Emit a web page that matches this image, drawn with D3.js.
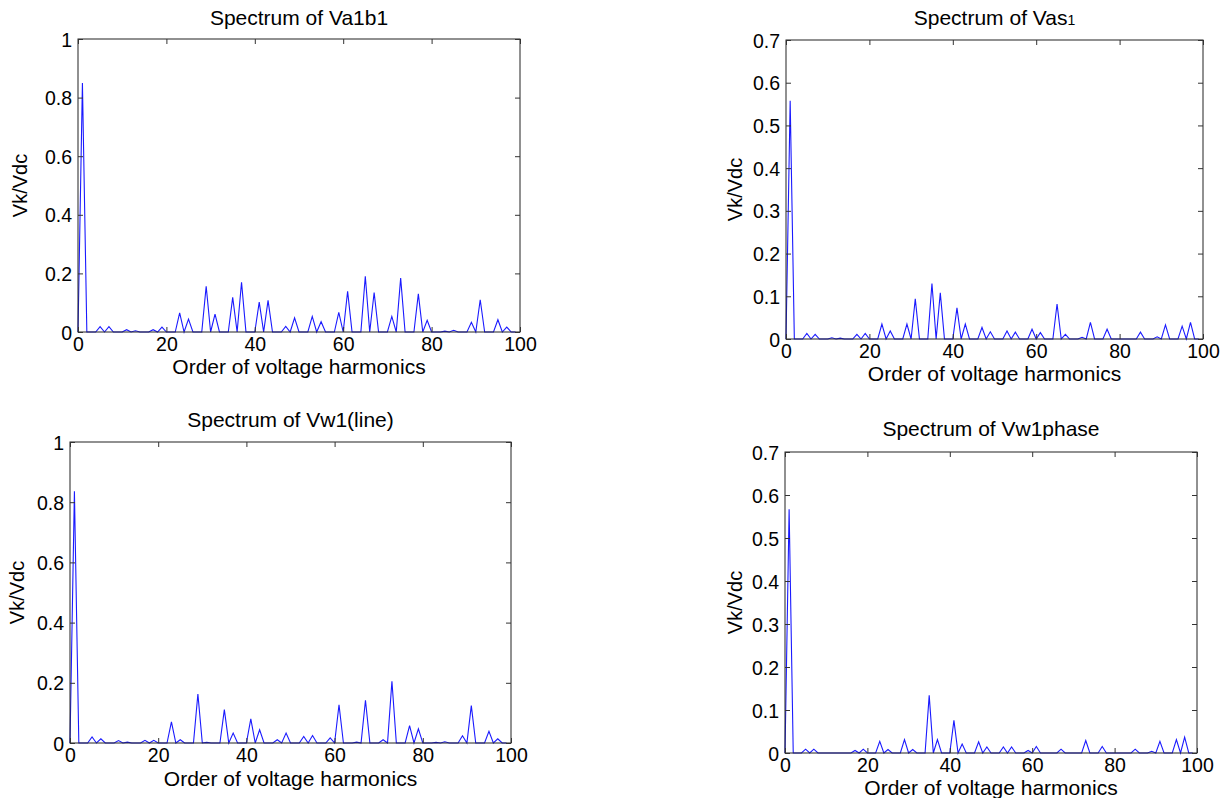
<!DOCTYPE html>
<html>
<head>
<meta charset="utf-8">
<script src="https://cdn.jsdelivr.net/npm/d3@7"></script>
<style>
  body { margin: 0; background: #fff; }
  svg text { font-family: "Liberation Sans", Arial, sans-serif; fill: #000; }
  .axis path, .axis line { stroke: #333; }
</style>
</head>
<body>
<svg id="chart" width="1230" height="798"></svg>
<script>
// harmonic order 0..99
var orders = d3.range(0, 100);

var va1b1 = [
  0, 0.85, 0, 0, 0, 0.018, 0, 0.018, 0, 0,
  0, 0.008, 0, 0.004, 0, 0, 0, 0.008, 0, 0.017,
  0, 0, 0, 0.065, 0, 0.044, 0, 0, 0, 0.156,
  0, 0.061, 0, 0, 0, 0.118, 0, 0.17, 0, 0,
  0, 0.102, 0, 0.108, 0, 0, 0, 0.019, 0, 0.048,
  0, 0, 0, 0.053, 0, 0.035, 0, 0, 0, 0.067,
  0, 0.139, 0, 0, 0, 0.19, 0, 0.135, 0, 0,
  0, 0.053, 0, 0.184, 0, 0, 0, 0.13, 0, 0.04,
  0, 0, 0, 0.003, 0, 0.006, 0, 0, 0, 0.033,
  0, 0.11, 0, 0, 0, 0.042, 0, 0.017, 0, 0
];

var vas1 = [
  0, 0.558, 0, 0, 0, 0.013, 0, 0.011, 0, 0,
  0, 0.003, 0, 0.002, 0, 0, 0, 0.011, 0, 0.013,
  0, 0, 0, 0.035, 0, 0.019, 0, 0, 0, 0.035,
  0, 0.094, 0, 0, 0, 0.13, 0, 0.108, 0, 0,
  0, 0.073, 0, 0.035, 0, 0, 0, 0.027, 0, 0.017,
  0, 0, 0, 0.019, 0, 0.016, 0, 0, 0, 0.023,
  0, 0.015, 0, 0, 0, 0.082, 0, 0.011, 0, 0,
  0, 0.004, 0, 0.039, 0, 0, 0, 0.023, 0, 0,
  0, 0, 0, 0, 0, 0.016, 0, 0, 0, 0.005,
  0, 0.033, 0, 0, 0, 0.03, 0, 0.039, 0, 0
];

var vw1line = [
  0, 0.836, 0, 0, 0, 0.02, 0, 0.014, 0, 0,
  0, 0.008, 0, 0.003, 0, 0, 0, 0.009, 0, 0.009,
  0, 0, 0, 0.07, 0, 0.011, 0, 0, 0, 0.163,
  0, 0.002, 0, 0, 0, 0.111, 0, 0.033, 0, 0,
  0, 0.08, 0, 0.044, 0, 0, 0, 0.011, 0, 0.033,
  0, 0, 0, 0.022, 0, 0.025, 0, 0, 0, 0.017,
  0, 0.127, 0, 0, 0, 0.003, 0, 0.142, 0, 0,
  0, 0.011, 0, 0.205, 0, 0, 0, 0.058, 0, 0.047,
  0, 0, 0, 0.002, 0, 0.004, 0, 0, 0, 0.024,
  0, 0.124, 0, 0, 0, 0.039, 0, 0.014, 0, 0
];

var vw1phase = [
  0, 0.567, 0, 0, 0, 0.009, 0, 0.009, 0, 0,
  0, 0, 0, 0, 0, 0, 0, 0.006, 0, 0.009,
  0, 0, 0, 0.027, 0, 0.008, 0, 0, 0, 0.031,
  0, 0.008, 0, 0, 0, 0.134, 0, 0.031, 0, 0,
  0, 0.076, 0, 0.021, 0, 0, 0, 0.026, 0, 0.014,
  0, 0, 0, 0.014, 0, 0.014, 0, 0, 0, 0.006,
  0, 0.015, 0, 0, 0, 0, 0, 0.009, 0, 0,
  0, 0, 0, 0.029, 0, 0, 0, 0.015, 0, 0,
  0, 0, 0, 0, 0, 0.009, 0, 0, 0, 0.004,
  0, 0.027, 0, 0, 0, 0.031, 0, 0.037, 0, 0
];

var xTicks = [0, 20, 40, 60, 80, 100];
var yTicksFull = [0, 0.2, 0.4, 0.6, 0.8, 1];
var yTicksHalf = [0, 0.1, 0.2, 0.3, 0.4, 0.5, 0.6, 0.7];

var panels = [
  {title: "Spectrum of Va1b1", sub: null, values: va1b1, yMax: 1, yTicks: yTicksFull,
   left: 78, right: 520, top: 39, bottom: 332, titleY: 25, xlabY: 374, ylabX: 20},
  {title: "Spectrum of Vas", sub: "1", values: vas1, yMax: 0.7, yTicks: yTicksHalf,
   left: 786, right: 1203, top: 40, bottom: 339, titleY: 25, xlabY: 381, ylabX: 735},
  {title: "Spectrum of Vw1(line)", sub: null, values: vw1line, yMax: 1, yTicks: yTicksFull,
   left: 70, right: 511, top: 442, bottom: 743, titleY: 427, xlabY: 786, ylabX: 17},
  {title: "Spectrum of Vw1phase", sub: null, values: vw1phase, yMax: 0.7, yTicks: yTicksHalf,
   left: 785, right: 1197, top: 452, bottom: 753, titleY: 436, xlabY: 795, ylabX: 735}
];

var svg = d3.select("#chart");
var fmt = function(d) { return d === 0 ? "0" : d === 1 ? "1" : d3.format(".1f")(d); };

panels.forEach(function(p) {
  var x = d3.scaleLinear().domain([0, 100]).range([p.left, p.right]);
  var y = d3.scaleLinear().domain([0, p.yMax]).range([p.bottom, p.top]);
  var g = svg.append("g");

  // spectrum line
  var line = d3.line()
    .x(function(d, i) { return x(orders[i]); })
    .y(function(d) { return y(d); });

  g.append("path")
    .datum(p.values)
    .attr("d", line)
    .attr("fill", "none")
    .attr("stroke", "#1a1aff")
    .attr("stroke-width", 1.1);

  // box
  g.append("rect")
    .attr("x", p.left).attr("y", p.top)
    .attr("width", p.right - p.left).attr("height", p.bottom - p.top)
    .attr("fill", "none").attr("stroke", "#222").attr("stroke-width", 1);

  // bottom axis (inward ticks)
  var xb = g.append("g").attr("class", "axis")
    .attr("transform", "translate(0," + p.bottom + ")")
    .call(d3.axisBottom(x).tickValues(xTicks).tickSizeInner(-5).tickSizeOuter(0).tickPadding(5).tickFormat(d3.format("d")));
  xb.select(".domain").remove();
  xb.selectAll("text").style("font-size", "19.5px").attr("dy", "0.71em");

  var xt = g.append("g").attr("class", "axis")
    .attr("transform", "translate(0," + p.top + ")")
    .call(d3.axisTop(x).tickValues(xTicks).tickSizeInner(-5).tickSizeOuter(0).tickFormat(""));
  xt.select(".domain").remove();

  var yl = g.append("g").attr("class", "axis")
    .attr("transform", "translate(" + p.left + ",0)")
    .call(d3.axisLeft(y).tickValues(p.yTicks).tickSizeInner(-5).tickSizeOuter(0).tickPadding(6).tickFormat(fmt));
  yl.select(".domain").remove();
  yl.selectAll("text").style("font-size", "19.5px").attr("dy", "0.36em");

  var yr = g.append("g").attr("class", "axis")
    .attr("transform", "translate(" + p.right + ",0)")
    .call(d3.axisRight(y).tickValues(p.yTicks).tickSizeInner(-5).tickSizeOuter(0).tickFormat(""));
  yr.select(".domain").remove();

  // title
  var cx = (p.left + p.right) / 2;
  var t = g.append("text")
    .attr("x", cx).attr("y", p.titleY)
    .attr("text-anchor", "middle")
    .style("font-size", "21px")
    .text(p.title);
  if (p.sub) t.append("tspan").style("font-size", "14px").text(p.sub);

  // x label
  g.append("text")
    .attr("x", cx).attr("y", p.xlabY)
    .attr("text-anchor", "middle")
    .style("font-size", "21px")
    .text("Order of voltage harmonics");

  // y label
  g.append("text")
    .attr("transform", "translate(" + p.ylabX + "," + ((p.top + p.bottom) / 2) + ") rotate(-90)")
    .attr("text-anchor", "middle")
    .attr("dy", "0.35em")
    .style("font-size", "20px")
    .text("Vk/Vdc");
});
</script>
</body>
</html>
